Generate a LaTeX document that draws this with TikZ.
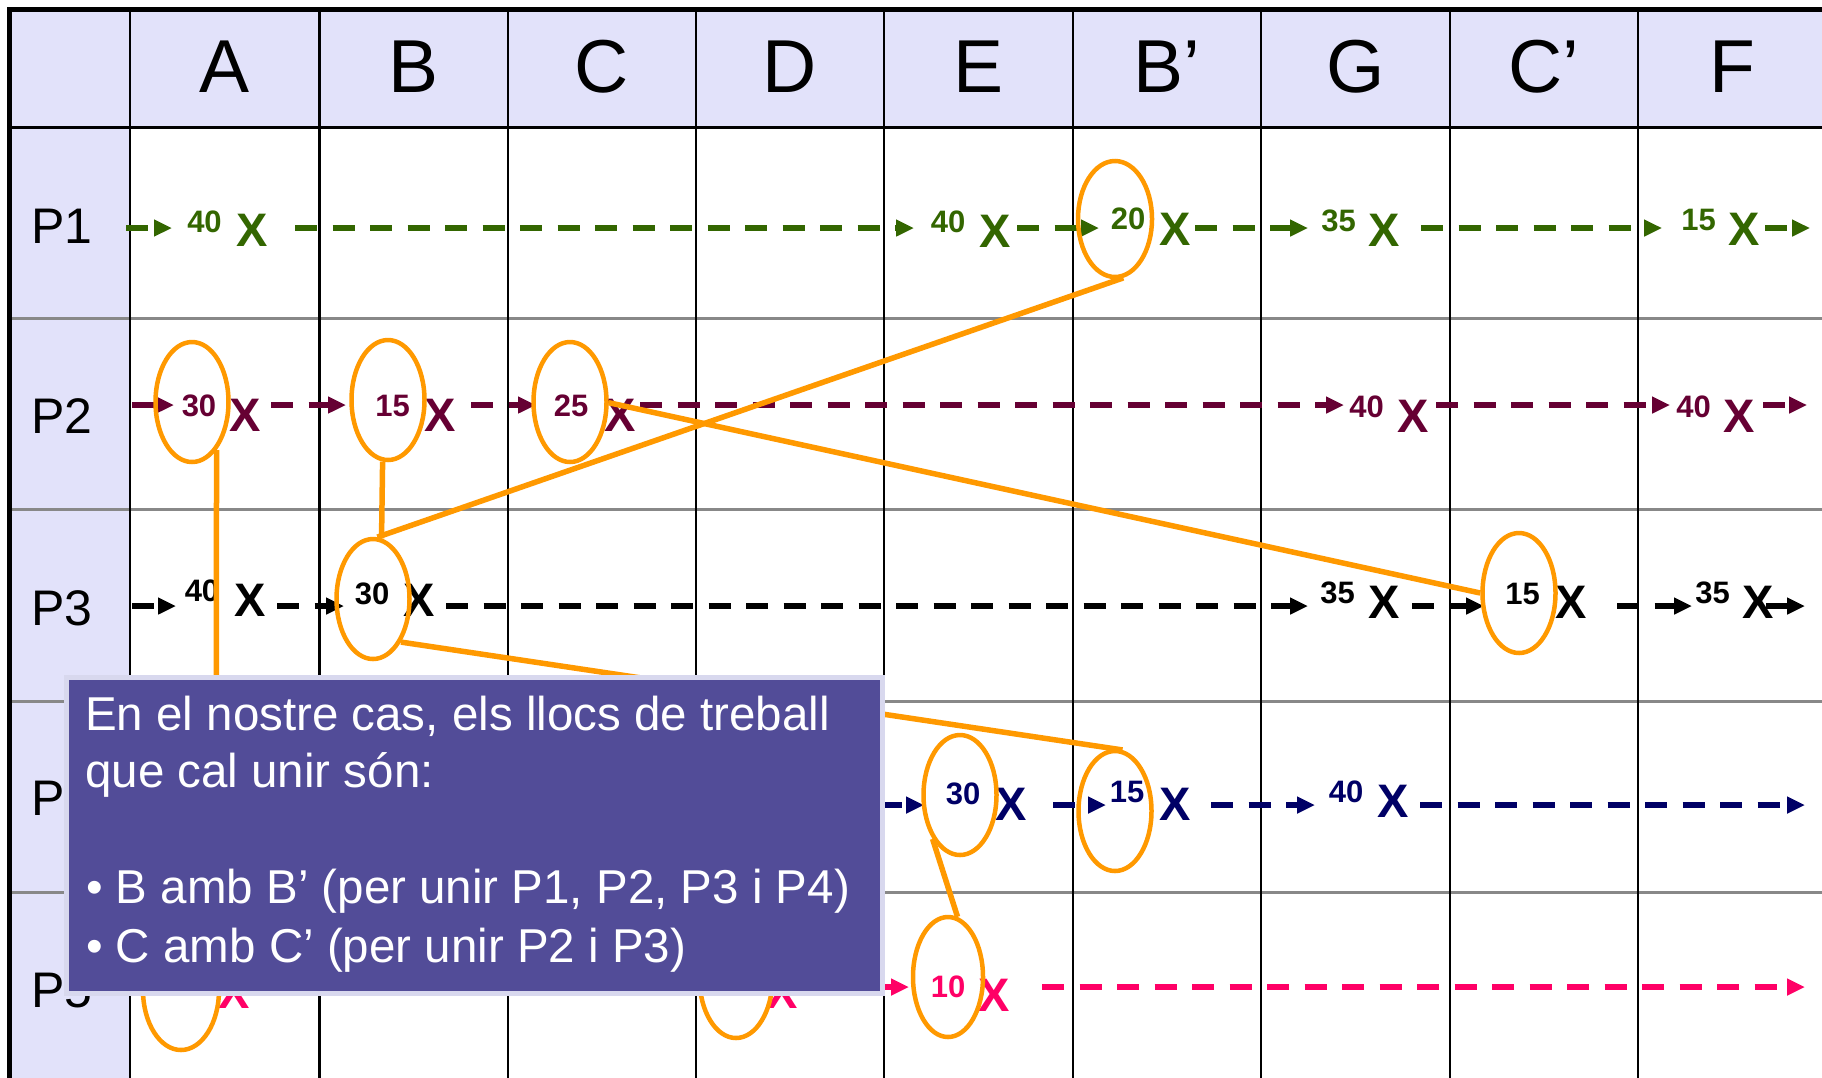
\documentclass[tikz,border=0pt]{standalone}
\usepackage{fontspec}
\setmainfont{Liberation Sans}
\usetikzlibrary{arrows.meta,shapes.geometric}

\definecolor{lav}{RGB}{226,226,250}
\definecolor{gridgray}{RGB}{136,136,136}
\definecolor{orng}{RGB}{255,153,0}
\definecolor{cgreen}{RGB}{51,102,0}
\definecolor{cmaroon}{RGB}{102,0,51}
\definecolor{cnavy}{RGB}{0,0,102}
\definecolor{cpink}{RGB}{255,0,102}
\definecolor{boxfill}{RGB}{82,76,152}
\definecolor{boxedge}{RGB}{216,216,238}

\newcommand\flowseg[4]{\coordinate (#1s) at (#2,#4); \coordinate (#1e) at (#3,#4); \draw[flow] (#1s) -- (#1e);}

\begin{document}
\begin{tikzpicture}[x=1pt,y=-1pt,
  hdr/.style={font=\fontsize{75}{80}\selectfont, anchor=base, inner sep=0},
  plab/.style={font=\fontsize{50}{55}\selectfont, anchor=base west, inner sep=0},
  num/.style={font=\fontsize{31}{34}\selectfont\bfseries, anchor=base, inner sep=0},
  xmk/.style={font=\fontsize{47}{50}\selectfont\bfseries, anchor=base, inner sep=0},
  flow/.style={line width=6pt, dash pattern=on 22pt off 15.5pt, -{Triangle[length=18pt,width=16pt]}},
  wp/.style={ellipse, draw=orng, line width=4.5pt, inner sep=0, minimum width=73pt, minimum height=120pt},
  link/.style={draw=orng, line width=5.5pt},
  boxtxt/.style={font=\fontsize{47.5}{58}\selectfont, text=white, anchor=base west, inner sep=0}
]
\useasboundingbox (0,0) rectangle (1822,1077);
\clip (0,0) rectangle (1822,1077);
\fill[white] (0,0) rectangle (1822,1077);

% table background
\fill[lav] (9.5,9.5) rectangle (1830,127);
\fill[lav] (9.5,127) rectangle (130,1090);
\foreach \y in {318,509,701,892} \draw[gridgray, line width=3pt] (9.5,\y) -- (1830,\y);
\draw[line width=3pt] (9.5,127) -- (1830,127);
\foreach \x in {130,319.5,508,696,884,1073,1261,1450,1638} \draw[line width=2.5pt] (\x,9.5) -- (\x,1090);
\draw[line width=5pt] (9.5,1090) -- (9.5,9.5) -- (1830,9.5);

% headers
\node[hdr] (hA) at (224.75,92) {A};
\node[hdr] (hB) at (413.75,92) {B};
\node[hdr] (hC) at (602,92) {C};
\node[hdr] (hD) at (790,92) {D};
\node[hdr] (hE) at (978.5,92) {E};
\node[hdr] (hBp) at (1167,92) {B’};
\node[hdr] (hG) at (1355.5,92) {G};
\node[hdr] (hCp) at (1544,92) {C’};
\node[hdr] (hF) at (1732,92) {F};

\node[plab] (p1) at (31,243) {P1};
\node[plab] (p2) at (31,433) {P2};
\node[plab] (p3) at (31,625) {P3};
\node[plab] (p4) at (31,815) {P4};
\node[plab] (p5) at (31,1007) {P5};

% row P1
\begin{scope}[color=cgreen]
\flowseg{a11}{126}{172}{228}
\node[num] (n11) at (204.5,232) {40};
\node[xmk] (x11) at (252.5,246) {X};
\flowseg{a12}{295}{914}{228}
\node[num] (n12) at (948,232) {40};
\node[xmk] (x12) at (995.5,247) {X};
\flowseg{a13}{1017}{1099}{228}
\node[num] (n13) at (1128,229) {20};
\node[xmk] (x13) at (1175,245) {X};
\flowseg{a14}{1195}{1308}{228}
\node[num] (n14) at (1338.5,231) {35};
\node[xmk] (x14) at (1384.5,246) {X};
\flowseg{a15}{1421}{1662}{228}
\node[num] (n15) at (1698.5,230) {15};
\node[xmk] (x15) at (1744.5,245) {X};
\flowseg{a16}{1765}{1810}{228}
\end{scope}
\node[wp, minimum width=74pt, minimum height=116pt] (eP1Bp) at (1115,219) {};

% row P2
\begin{scope}[color=cmaroon]
\flowseg{a21}{132}{174}{405}
\node[num] (n21) at (199,416) {30};
\node[xmk] (x21) at (245.5,431) {X};
\flowseg{a22}{271}{346}{405}
\node[num] (n22) at (392.5,416) {15};
\node[xmk] (x22) at (440.5,431) {X};
\flowseg{a23}{471}{536}{405}
\node[num] (n23) at (571,416) {25};
\node[xmk] (x23) at (620.5,431) {X};
\flowseg{a24}{640}{1344}{405}
\node[num] (n24) at (1366.5,417) {40};
\node[xmk] (x24) at (1413.5,432) {X};
\flowseg{a25}{1436}{1670}{405}
\node[num] (n25) at (1693.5,417) {40};
\node[xmk] (x25) at (1739.5,432) {X};
\flowseg{a26}{1763}{1807}{405}
\end{scope}
\node[wp] (eP2A) at (192,402) {};
\node[wp] (eP2B) at (388,400) {};
\node[wp] (eP2C) at (570,402) {};

% row P3
\begin{scope}[color=black]
\flowseg{a31}{132}{176}{606}
\node[num] (n31) at (202,601) {40};
\node[xmk] (x31) at (250,616) {X};
\flowseg{a32}{277}{344}{606}
\node[num] (n32) at (372,604) {30};
\node[xmk] (x32) at (419.5,616) {X};
\flowseg{a33}{446}{1308}{606}
\node[num] (n33) at (1337.5,603) {35};
\node[xmk] (x33) at (1384.5,618) {X};
\flowseg{a34}{1412}{1484}{606}
\node[num] (n34) at (1522.5,604) {15};
\node[xmk] (x34) at (1571,618) {X};
\flowseg{a35}{1617}{1692}{606}
\node[num] (n35) at (1712.5,603) {35};
\node[xmk] (x35) at (1758.5,618) {X};
\flowseg{a36}{1766}{1805}{606}
\end{scope}
\node[wp] (eP3B) at (373,599) {};
\node[wp] (eP3Cp) at (1519,593) {};

% row P4
\begin{scope}[color=cnavy]
\flowseg{a41}{880}{924}{805}
\node[num] (n41) at (963,804) {30};
\node[xmk] (x41) at (1011,820) {X};
\flowseg{a42}{1053}{1106}{805}
\node[num] (n42) at (1127,802) {15};
\node[xmk] (x42) at (1175,820) {X};
\flowseg{a43}{1211}{1315}{805}
\node[num] (n43) at (1346,802) {40};
\node[xmk] (x43) at (1393,817) {X};
\flowseg{a44}{1420}{1805}{805}
\end{scope}
\node[wp] (eP4E) at (960,795) {};
\node[wp] (eP4Bp) at (1115,811) {};

% row P5
\begin{scope}[color=cpink]
\node[xmk] (x51) at (234,1008) {X};
\node[xmk] (x52) at (782,1008) {X};
\flowseg{a51}{880}{909}{987}
\node[num] (n51) at (948,997) {10};
\node[xmk] (x53) at (994,1011) {X};
\flowseg{a52}{1042}{1805}{987}
\end{scope}
\node[wp, minimum width=76pt] (eP5A) at (181,990) {};
\node[wp] (eP5D) at (736,978) {};
\node[wp, minimum width=70pt] (eP5E) at (948,977) {};

% links
\draw[link] (eP2A.-63) -- (eP5A.41);
\draw[link] (eP2B.-95) -- (eP3B.82);
\draw[link] (eP3B.86) -- (eP1Bp.-82);
\draw[link] (eP2C.-1) -- (eP3Cp.180);
\draw[link] (eP3B.-57) -- (eP4Bp.83);
\draw[link] (eP4E.-122) -- (eP5E.81);

% note box
\node[draw=boxedge, fill=boxfill, line width=5pt, minimum width=816pt, minimum height=316pt, inner sep=0, anchor=north west] (note) at (63.5,674.5) {};
\node[boxtxt] (t1) at (85,730) {En el nostre cas, els llocs de treball};
\node[boxtxt] (t2) at (85,787) {que cal unir són:};
\node[boxtxt] (t3) at (86,903) {• B amb B’ (per unir P1, P2, P3 i P4)};
\node[boxtxt] (t4) at (86,962) {• C amb C’ (per unir P2 i P3)};
\end{tikzpicture}
\end{document}
